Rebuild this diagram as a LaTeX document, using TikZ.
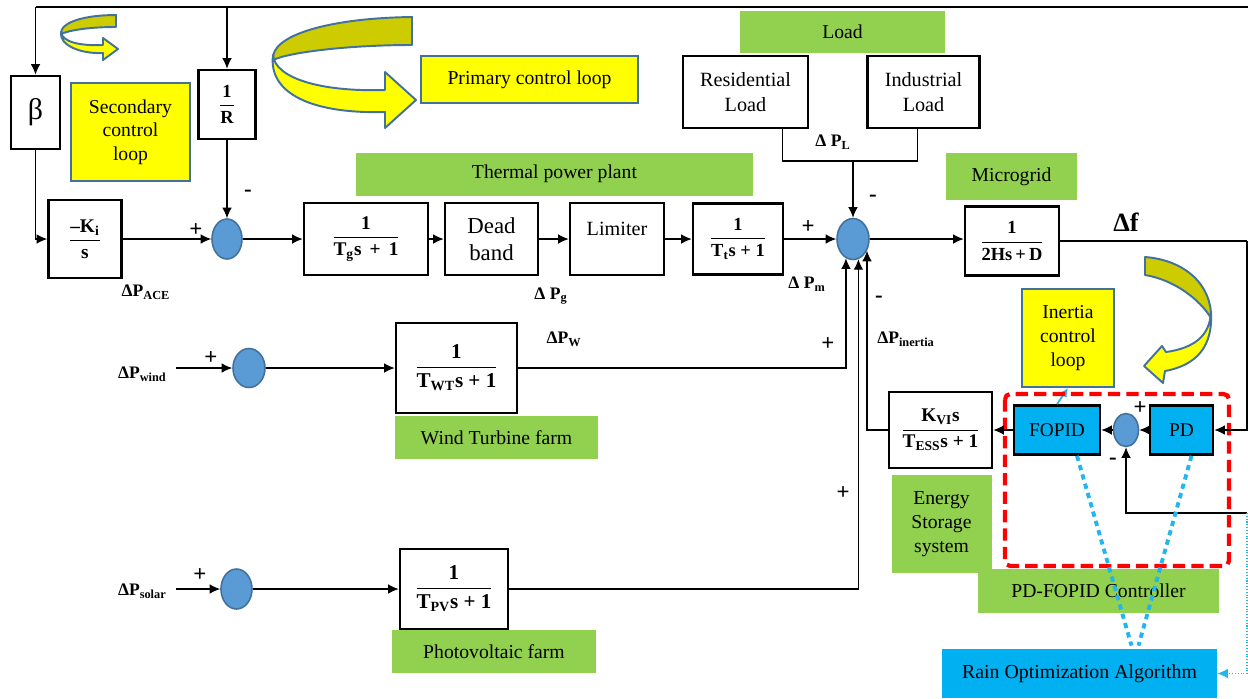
\documentclass[tikz,border=0pt]{standalone}
\usepackage{fontspec}
\usepackage{amsmath}
\setmainfont{Liberation Serif}
\newfontfamily\tnr[Ligatures=TeX]{Liberation Serif}
\usetikzlibrary{shapes.geometric,calc,arrows.meta}
\definecolor{gr}{HTML}{92D050}
\definecolor{yl}{HTML}{FFFF00}
\definecolor{dyl}{HTML}{CCCC00}
\definecolor{ybd}{HTML}{41719C}
\definecolor{cb}{HTML}{5B9BD5}
\definecolor{cy}{HTML}{00B0F0}
\definecolor{dcy}{HTML}{22B5EE}
\newcommand\tb[1]{\text{\bfseries #1}}
\tikzset{
 sz/.style 2 args={minimum width=#1*0.02cm, minimum height=#2*0.02cm},
 blk/.style={draw=black, line width=1.5pt, fill=white, inner sep=0pt, align=center, font=\tnr\fontsize{11.5}{14}\selectfont},
 frc/.style={blk, font=\tnr\fontsize{10.5}{12}\selectfont},
 grn/.style={fill=gr, inner sep=0pt, align=center, font=\tnr\fontsize{11.2}{13.5}\selectfont},
 ylw/.style={fill=yl, draw=ybd, line width=1.2pt, inner sep=0pt, align=center, font=\tnr\fontsize{11.2}{13.5}\selectfont},
 cyb/.style={fill=cy, draw=black, line width=1.5pt, inner sep=0pt, align=center, font=\tnr\fontsize{11}{13}\selectfont},
 sumj/.style={ellipse, fill=cb, draw=ybd, line width=0.9pt, inner sep=0pt},
 arr/.style={-{Latex[length=6pt,width=5.5pt]}, line width=0.7pt},
 ln/.style={line width=0.7pt},
 lbl/.style={font=\tnr\bfseries\fontsize{10}{12}\selectfont, inner sep=0pt},
 sgn/.style={font=\tnr\bfseries\fontsize{13}{13}\selectfont, inner sep=0pt},
 curv/.style={draw=ybd, line width=1.1pt, line join=round},
 dotcy/.style={draw=dcy, line width=2.2pt, dash pattern=on 3pt off 2.5pt},
}
\begin{document}
\begin{tikzpicture}[x=0.02cm,y=-0.02cm]
\useasboundingbox (0,0) rectangle (1248,698);

% curved arrows
\filldraw[curv, fill=dyl] (116,15) .. controls (85,15) and (60,22) .. (61,34) .. controls (70,30) and (90,27) .. (116,27) -- cycle;
\filldraw[curv, fill=yl] (61,32) .. controls (62,42) and (80,46) .. (103,45) -- (103,38) -- (118,49) -- (103,60) -- (103,53) .. controls (80,54) and (59,45) .. (61,32) -- cycle;
\filldraw[curv, fill=dyl] (412,17) .. controls (330,18) and (270,35) .. (273,60) .. controls (290,52) and (350,45) .. (412,45) -- cycle;
\filldraw[curv, fill=yl] (273,55) .. controls (275,78) and (320,92) .. (385,90) -- (385,72) -- (416,100) -- (385,128) -- (385,112) .. controls (315,114) and (268,95) .. (273,55) -- cycle;
\filldraw[curv, fill=dyl] (1145,257) .. controls (1185,260) and (1212,285) .. (1211,318) .. controls (1200,300) and (1175,280) .. (1145,275) -- cycle;
\filldraw[curv, fill=yl] (1211,312) .. controls (1210,335) and (1195,348) .. (1166,352) -- (1162,346) -- (1144,366) -- (1163,383) -- (1165,371) .. controls (1198,365) and (1213,345) .. (1211,312) -- cycle;

% labels / colored boxes
\node[ylw, sz={119}{98}] (sec) at (130.5,132) {Secondary\\control\\loop};
\node[ylw, sz={217}{47}] (prim) at (529.5,79.5) {Primary control loop};
\node[ylw, sz={92}{98}] (inertia) at (1068,338) {Inertia\\control\\loop};
\node[grn, sz={205}{42}] (loadg) at (842.5,32) {Load};
\node[grn, sz={397}{43}] (tpp) at (554.5,174) {Thermal power plant};
\node[grn, sz={131}{47}] (mgg) at (1011.5,176.5) {Microgrid};
\node[grn, sz={203}{43}] (wtf) at (496.5,437.5) {Wind Turbine farm};
\node[grn, sz={204}{43}] (pvf) at (494,651.5) {Photovoltaic farm};
\node[grn, sz={100}{98}] (ess) at (941.5,524) {Energy\\Storage\\system};
\node[grn, sz={241}{44}] (pdf) at (1098.5,591) {PD-FOPID Controller};
\node[fill=cy, inner sep=0pt, sz={275}{49}, font=\tnr\fontsize{11.3}{14}\selectfont] (rain) at (1079.5,673.5) {Rain Optimization Algorithm};

% blocks
\node[blk, sz={49}{73}, font=\tnr\fontsize{17}{17}\selectfont] (beta) at (35.5,112.5) {β};
\node[frc, sz={57}{69}] (R) at (227,104.5) {$\dfrac{\tb{1}}{\tb{R}}$};
\node[frc, sz={73}{78}, font=\tnr\fontsize{11}{13}\selectfont] (ki) at (85,239) {$\dfrac{\tb{–K}_{\tb{i}}}{\tb{s}}$};
\node[sumj, sz={30}{40}] (s1) at (227,239) {};
\node[frc, sz={124}{72}, font=\tnr\fontsize{11}{13}\selectfont] (tg) at (366,239) {$\dfrac{\tb{1}}{\tb{T}_{\tb{g}}\tb{s\,\ +\ \,1}}$};
\node[blk, sz={93}{72}, font=\tnr\fontsize{13}{15}\selectfont] (db) at (491.5,239) {Dead\\band};
\node[blk, sz={94}{72}] (lim) at (617,239) {Limiter\\[-2pt]\mbox{}};
\node[frc, sz={90}{71}] (tt) at (738,239) {$\dfrac{\tb{1}}{\tb{T}_{\tb{t}}\tb{s + 1}}$};
\node[sumj, sz={32}{41}] (jm) at (853,239) {};
\node[frc, sz={94}{69}] (mg) at (1012,241) {$\dfrac{\tb{1}}{\tb{2Hs\,+\,D}}$};
\node[blk, sz={125}{72}] (res) at (745.5,92) {Residential\\Load};
\node[blk, sz={112}{72}] (ind) at (923.5,92) {Industrial\\Load};

\node[sumj, sz={32}{39}] (cw) at (249,368) {};
\node[frc, sz={121}{90}, font=\tnr\fontsize{12}{14}\selectfont] (wt) at (456.5,368) {$\dfrac{\tb{1}}{\tb{T}_{\tb{WT}}\tb{s + 1}}$};
\node[sumj, sz={31}{40}] (cs) at (236.5,589) {};
\node[frc, sz={108}{80}, font=\tnr\fontsize{12}{14}\selectfont] (pv) at (454,589) {$\dfrac{\tb{1}}{\tb{T}_{\tb{PV}}\tb{s + 1}}$};

\node[frc, sz={103}{76}, font=\tnr\fontsize{11}{13}\selectfont] (kvi) at (940.5,430) {$\dfrac{\tb{K}_{\tb{VI}}\tb{s}}{\tb{T}_{\tb{ESS}}\tb{s + 1}}$};
\node[cyb, sz={86}{49}] (fopid) at (1057,430) {FOPID};
\node[cyb, sz={63}{49}] (pd) at (1181.5,430) {PD};
\node[sumj, sz={25}{33}] (sc) at (1126,430) {};

% inertia link
\draw[draw=dcy, line width=1pt, -{Latex[length=5pt,width=5pt]}] (fopid.north) -- (inertia.south);
% red dashed region
\draw[red, line width=2.4pt, dash pattern=on 7pt off 3.5pt, rounded corners=3pt] (1005,394) rectangle (1229,566);

% text labels
\node[lbl] (lace) at (146,292) {ΔP\textsubscript{ACE}};
\node[lbl] (lg) at (551,296) {Δ P\textsubscript{g}};
\node[lbl] (lm) at (807,284) {Δ P\textsubscript{m}};
\node[lbl] (lL) at (833,142) {Δ P\textsubscript{L}};
\node[lbl] (lW) at (564,339) {ΔP\textsubscript{W}};
\node[lbl] (lin) at (906,339) {ΔP\textsubscript{inertia}};
\node[lbl, anchor=east] (lwind) at (167,374) {ΔP\textsubscript{wind}};
\node[lbl, anchor=east] (lsolar) at (167,591) {ΔP\textsubscript{solar}};
\node[lbl, font=\tnr\bfseries\fontsize{15}{15}\selectfont] (ldf) at (1126,222) {Δf};

% signs
\node[sgn] at (196,230) {+};
\node[sgn] at (248,193) {-};
\node[sgn] at (808,227) {+};
\node[sgn] at (873,198) {-};
\node[sgn] at (879,299) {-};
\node[sgn] at (828,344) {+};
\node[sgn] at (843,493) {+};
\node[sgn] at (211,358) {+};
\node[sgn] at (200,575) {+};
\node[sgn] at (1140,408) {+};
\node[sgn] at (1113,461) {-};

% top feedback line
\coordinate (ttop) at (1248,7);
\draw[ln] (ttop) -- (beta.north |- ttop);
\draw[arr] (beta.north |- ttop) -- (beta.north);
\draw[arr] (R.north |- ttop) -- (R.north);

% left chain
\draw[arr] (beta.south) |- (ki.west);
\draw[arr] (ki.east) -- (s1.west);
\draw[arr] (R.south) -- (s1.north);
\draw[arr] (s1.east) -- (tg.west);
\draw[arr] (tg.east) -- (db.west);
\draw[arr] (db.east) -- (lim.west);
\draw[arr] (lim.east) -- (tt.west);
\draw[arr] (tt.east) -- (jm.west);
\draw[arr] (jm.east) -- (jm.east -| mg.west);

% load
\coordinate (resout) at ($(res.south east)+(-27,0)$);
\coordinate (indout) at ($(ind.south)+(-6,0)$);
\coordinate (lj) at (853,161);
\draw[ln] (resout) |- (indout |- lj) -- (indout);
\draw[arr] (lj) -- (jm.north);

% renewables
\draw[arr, shorten <=5pt] (cw.west -| lwind.east) -- (cw.west);
\draw[arr] (cw.east) -- (wt.west);
\draw[arr] (wt.east) -| (jm.250);
\draw[arr, shorten <=5pt] (cs.west -| lsolar.east) -- (cs.west);
\draw[arr] (cs.east) -- (pv.west);
\draw[arr] (pv.east) -| (jm.285);

% inertia loop
\coordinate (rc) at (1247,241);
\draw[ln] (mg.east) -- (rc);
\draw[arr] (rc) |- (pd.east);
\draw[arr] (pd.west) -- (sc.east);
\draw[arr] (sc.west) -- (fopid.east);
\draw[arr] (fopid.west) -- (kvi.east);
\draw[arr] (kvi.west) -| (jm.320);
\coordinate (fb) at (1247,513);
\draw[arr] (fb) -| (sc.south);
\draw[draw=dcy, line width=0.6pt, densely dotted, -{Latex[length=6pt,width=5.5pt]}] (fb) |- (rain.east);

% optimisation links
\draw[dotcy] ($(fopid.south)+(20,0)$) -- ($(rain.north)+(52,-3)$);
\draw[dotcy] ($(pd.south)+(10,0)$) -- ($(rain.north)+(59,-3)$);
\end{tikzpicture}
\end{document}
